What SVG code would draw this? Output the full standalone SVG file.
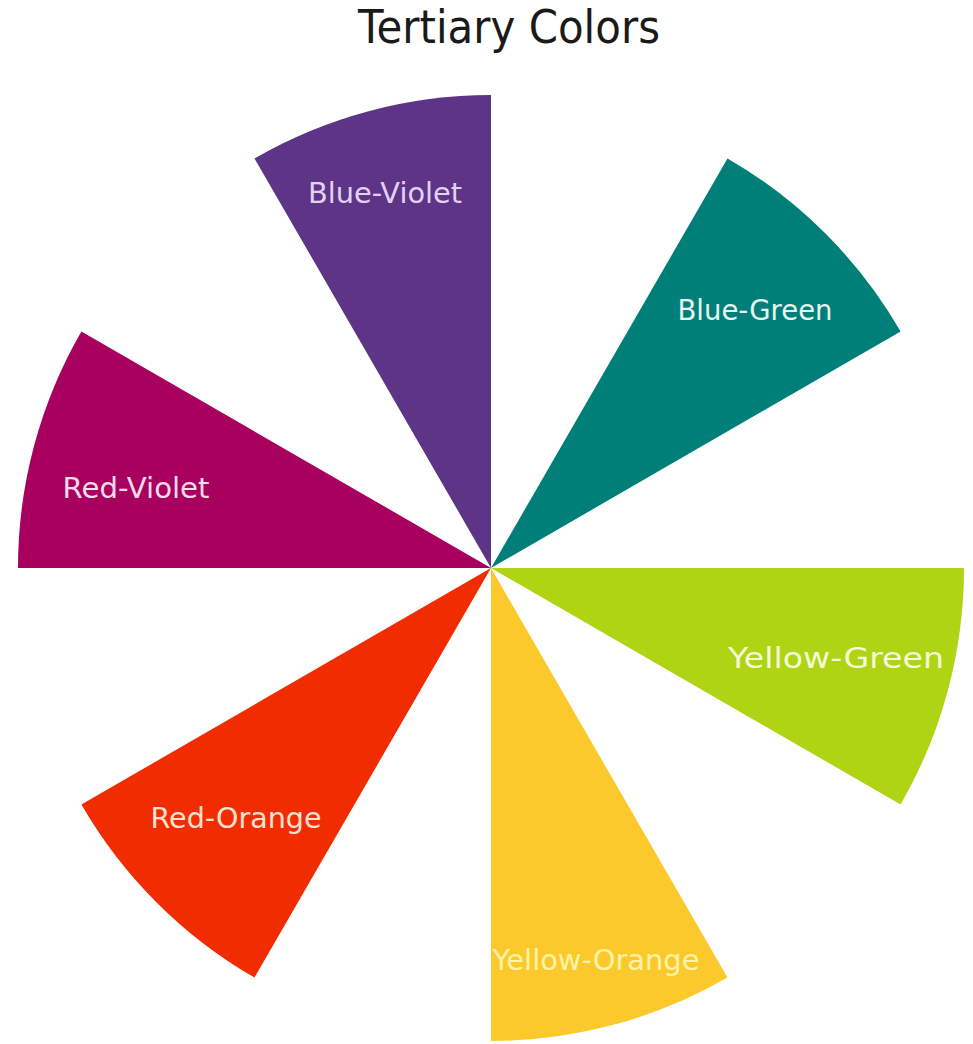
<svg xmlns="http://www.w3.org/2000/svg" width="973" height="1044" viewBox="0 0 973 1044">
<style>
text{font-family:"DejaVu Sans","Liberation Sans",sans-serif;}
.lbl{font-size:29px;text-anchor:middle;}
.title{font-size:46px;text-anchor:middle;fill:#1a1a1a;}
</style>
<rect width="973" height="1044" fill="#ffffff"/>
<text class="title" x="509" y="43" textLength="302" lengthAdjust="spacingAndGlyphs">Tertiary Colors</text>
<g id="blue-violet">
<path d="M491,568 L491,95 A473,473 0 0 0 254.5,158.4 Z" fill="#5e3487"/>
<text class="lbl" x="385" y="203" fill="#e2d2f2" textLength="154" lengthAdjust="spacingAndGlyphs">Blue-Violet</text>
</g>
<g id="blue-green">
<path d="M491,568 L727.5,158.4 A473,473 0 0 1 900.6,331.5 Z" fill="#007f79"/>
<text class="lbl" x="755" y="320" fill="#e6f4f2" textLength="155" lengthAdjust="spacingAndGlyphs">Blue-Green</text>
</g>
<g id="yellow-green">
<path d="M491,568 L964,568 A473,473 0 0 1 900.6,804.5 Z" fill="#aed414"/>
<text class="lbl" x="836" y="668" fill="#f4fad8" textLength="216" lengthAdjust="spacingAndGlyphs">Yellow-Green</text>
</g>
<g id="yellow-orange">
<path d="M491,568 L727.5,977.6 A473,473 0 0 1 491,1041 Z" fill="#fcc92c"/>
<text class="lbl" x="596" y="970" fill="#fff3a6" textLength="207" lengthAdjust="spacingAndGlyphs">Yellow-Orange</text>
</g>
<g id="red-orange">
<path d="M491,568 L254.5,977.6 A473,473 0 0 1 81.4,804.5 Z" fill="#f02c00"/>
<text class="lbl" x="236" y="828" fill="#ffe0d2" textLength="171" lengthAdjust="spacingAndGlyphs">Red-Orange</text>
</g>
<g id="red-violet">
<path d="M491,568 L18,568 A473,473 0 0 1 81.4,331.5 Z" fill="#a8005e"/>
<text class="lbl" x="136" y="498" fill="#f8dcea" textLength="147" lengthAdjust="spacingAndGlyphs">Red-Violet</text>
</g>
</svg>
